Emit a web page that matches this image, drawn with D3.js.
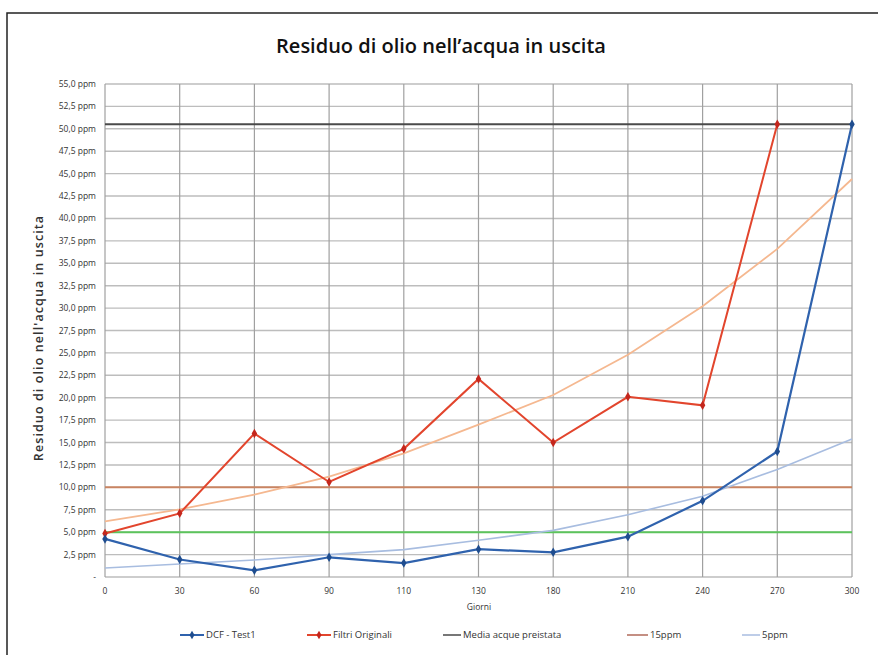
<!DOCTYPE html>
<html>
<head>
<meta charset="utf-8">
<script src="https://cdn.jsdelivr.net/npm/d3@7"></script>
<style>
  body { margin: 0; background: #fff; }
  svg { display: block; font-family: "Open Sans", sans-serif; }
</style>
</head>
<body>
<svg id="chart" width="878" height="655"></svg>
<script>
// data
const giorni = ["0", "30", "60", "90", "110", "130", "180", "210", "240", "270", "300"];
const dcfTest1 = [4.25, 1.95, 0.75, 2.2, 1.55, 3.1, 2.75, 4.5, 8.5, 14.0, 50.5];
const filtriOriginali = [4.85, 7.1, 16.0, 10.6, 14.3, 22.1, 15.0, 20.1, 19.15, 50.5, null];
const mediaAcque = [50.5, 50.5, 50.5, 50.5, 50.5, 50.5, 50.5, 50.5, 50.5, 50.5, 50.5];
const soglia10 = [10, 10, 10, 10, 10, 10, 10, 10, 10, 10, 10];
const soglia5 = [5, 5, 5, 5, 5, 5, 5, 5, 5, 5, 5];
// exponential trend lines (as they appear on the picture)
const trendFiltri = [6.2, 7.55, 9.2, 11.2, 13.8, 17.0, 20.3, 24.8, 30.2, 36.6, 44.4];
const trendDcf = [1.0, 1.45, 1.9, 2.5, 3.05, 4.1, 5.2, 6.95, 9.0, 12.0, 15.4];
const yTicks = [0, 2.5, 5, 7.5, 10, 12.5, 15, 17.5, 20, 22.5, 25, 27.5, 30, 32.5, 35, 37.5, 40, 42.5, 45, 47.5, 50, 52.5, 55];

const svg = d3.select("#chart");

// frame round the chart
svg.append("rect")
    .attr("x", 7).attr("y", 13)
    .attr("width", 900).attr("height", 700)
    .attr("fill", "none").attr("stroke", "#222").attr("stroke-width", 1.5);

let x = d3.scalePoint().domain(giorni).range([105, 852]);
let y = d3.scaleLinear().domain([0, 55]).range([577, 84]);

// grid
svg.append("g").selectAll("line").data(yTicks).join("line")
    .attr("x1", 105).attr("x2", 852)
    .attr("y1", d => y(d)).attr("y2", d => y(d))
    .attr("stroke", "#bdbdbd").attr("stroke-width", 1.4);
svg.append("g").selectAll("line").data(giorni).join("line")
    .attr("x1", d => x(d)).attr("x2", d => x(d))
    .attr("y1", y(0)).attr("y2", y(55))
    .attr("stroke", "#a0a0a0").attr("stroke-width", 1.2);

// y axis labels
let fmt = d => d === 0 ? "-" : d.toFixed(1).replace(".", ",") + " ppm";
svg.append("g").selectAll("text").data(yTicks).join("text")
    .attr("x", 96).attr("y", d => y(d) + 3)
    .attr("text-anchor", "end")
    .attr("font-size", 8.5).attr("fill", "#333")
    .text(fmt);

// x axis labels
svg.append("g").selectAll("text").data(giorni).join("text")
    .attr("x", d => x(d)).attr("y", 594)
    .attr("text-anchor", "middle")
    .attr("font-size", 8.5).attr("fill", "#333")
    .text(d => d);

svg.append("text")
    .attr("x", 479).attr("y", 610)
    .attr("text-anchor", "middle")
    .attr("font-size", 8.5).attr("fill", "#333")
    .text("Giorni");

svg.append("text")
    .attr("x", 441).attr("y", 53)
    .attr("text-anchor", "middle")
    .attr("font-size", 20).attr("font-weight", 600).attr("fill", "#111")
    .text("Residuo di olio nell\u2019acqua in uscita");

svg.append("text")
    .attr("transform", "translate(43,338) rotate(-90)")
    .attr("text-anchor", "middle")
    .attr("font-size", 12.5).attr("font-weight", 600).attr("fill", "#333")
    .attr("letter-spacing", 1.1)
    .text("Residuo di olio nell'acqua in uscita");

// lines
let line = d3.line()
    .defined(d => d != null)
    .x((d, i) => x(giorni[i]))
    .y(d => y(d));

function drawLine(values, color, width){
    svg.append("path")
        .datum(values)
        .attr("d", line)
        .attr("fill", "none")
        .attr("stroke", color)
        .attr("stroke-width", width);
}

drawLine(soglia10, "#c98462", 2);
drawLine(soglia5, "#5cc45c", 2);
drawLine(trendDcf, "#a8bde0", 1.6);
drawLine(trendFiltri, "#f5b890", 1.8);
drawLine(mediaAcque, "#4a4a4a", 2);
drawLine(filtriOriginali, "#e2452d", 2);
drawLine(dcfTest1, "#2f62ad", 2.2);

function drawMarkers(values, color){
    svg.append("g").selectAll("path")
        .data(values.map((v, i) => ({v: v, c: giorni[i]})).filter(d => d.v != null))
        .join("path")
        .attr("d", d3.symbol(d3.symbolDiamond, 26))
        .attr("transform", d => "translate(" + x(d.c) + "," + y(d.v) + ")")
        .attr("fill", color);
}
drawMarkers(filtriOriginali, "#c4261c");
drawMarkers(dcfTest1, "#1f4d8f");

// legend
const legend = [
    {name: "DCF - Test1", color: "#2f62ad", marker: "#1f4d8f", x1: 180, x2: 204},
    {name: "Filtri Originali", color: "#e2452d", marker: "#c4261c", x1: 307, x2: 331},
    {name: "Media acque preistata", color: "#4a4a4a", marker: null, x1: 443, x2: 461},
    {name: "15ppm", color: "#b06a5a", marker: null, x1: 627, x2: 648},
    {name: "5ppm", color: "#a8bde0", marker: null, x1: 742, x2: 760}
];
let lg = svg.append("g").selectAll("g").data(legend).join("g");
lg.append("line")
    .attr("x1", d => d.x1).attr("x2", d => d.x2)
    .attr("y1", 635).attr("y2", 635)
    .attr("stroke", d => d.color).attr("stroke-width", d => d.marker ? 2 : 1.5);
lg.filter(d => d.marker).append("path")
    .attr("d", d3.symbol(d3.symbolDiamond, 22))
    .attr("transform", d => "translate(" + ((d.x1 + d.x2) / 2) + ",635)")
    .attr("fill", d => d.marker);
lg.append("text")
    .attr("x", d => d.x2 + 2).attr("y", 638)
    .attr("font-size", 9.5).attr("fill", "#333")
    .text(d => d.name);
</script>
</body>
</html>
